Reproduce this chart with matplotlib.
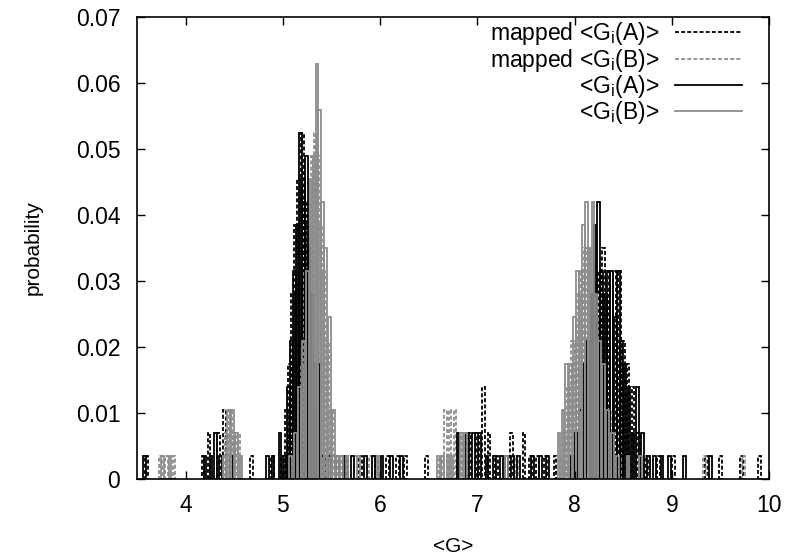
import matplotlib
matplotlib.use("Agg")
import matplotlib.pyplot as plt
from matplotlib.lines import Line2D

# probability unit: one sample out of 286
unit = 1.0 / 286

# <Gi(A)>  (solid black)
a_x = [3.58, 4.20, 4.26, 4.31, 4.36, 4.47,
       4.84, 4.90, 4.97, 5.02, 5.06, 5.09, 5.12, 5.15, 5.18, 5.21, 5.24, 5.27,
       5.30, 5.33, 5.36, 5.41, 5.48, 5.56, 5.63, 5.72,
       5.85, 5.93, 6.02, 6.12, 6.22, 6.80, 6.90, 6.96, 7.02, 7.10, 7.18, 7.25,
       7.30, 7.36, 7.42, 7.57, 7.65, 7.72,
       7.98, 8.02, 8.06, 8.10, 8.14, 8.18, 8.21, 8.25, 8.28, 8.32, 8.35, 8.38,
       8.42, 8.45, 8.48, 8.52, 8.56, 8.60, 8.65, 8.70, 8.76, 8.82, 8.90, 8.98,
       9.13, 9.40]
a_n = [1, 1, 1, 2, 1, 1,
       1, 1, 2, 1, 4, 6, 9, 11, 15, 13, 14, 10,
       8, 5, 5, 1, 1, 1, 1, 1,
       1, 1, 1, 1, 1, 2, 2, 2, 2, 1, 1, 1,
       1, 1, 1, 1, 1, 1,
       1, 2, 3, 5, 6, 8, 11, 12, 9, 8, 9, 9,
       7, 9, 6, 5, 4, 2, 4, 2, 1, 1, 1, 1,
       1, 1]

# <Gi(B)>  (solid grey)
b_x = [3.76, 3.84, 4.40, 4.44, 4.48, 4.52, 4.57,
       5.08, 5.13, 5.17, 5.21, 5.25, 5.29, 5.32, 5.35, 5.38, 5.41, 5.44, 5.48,
       5.52, 5.56, 5.60, 5.66, 5.78, 5.98,
       6.60, 6.64, 6.70, 6.74, 6.84, 6.88, 7.30,
       7.84, 7.88, 7.92, 7.96, 8.00, 8.03, 8.06, 8.09, 8.12, 8.15, 8.19, 8.22,
       8.26, 8.30, 8.34, 8.39, 8.44, 8.55, 8.68]
b_n = [1, 1, 1, 3, 3, 2, 1,
       1, 2, 4, 6, 9, 13, 14, 18, 16, 12, 10, 7,
       3, 1, 1, 1, 1, 1,
       1, 1, 1, 1, 2, 2, 1,
       2, 3, 5, 5, 7, 9, 9, 11, 12, 10, 12, 8,
       6, 5, 3, 2, 1, 1, 1]

# mapped <Gi(A)>  (dashed black)
ma_x = [3.60, 4.18, 4.24, 4.34, 4.40, 4.68, 4.89,
        5.00, 5.04, 5.07, 5.10, 5.13, 5.16, 5.20, 5.23, 5.26, 5.29, 5.32,
        5.36, 5.40, 5.45, 5.52, 5.66, 5.80, 5.96, 6.08, 6.18, 6.26, 6.48,
        6.92, 7.00, 7.06, 7.12, 7.20, 7.35, 7.48, 7.55, 7.62, 7.70, 7.80,
        8.02, 8.06, 8.10, 8.14, 8.18, 8.22, 8.26, 8.30, 8.34, 8.38, 8.41,
        8.46, 8.50, 8.55, 8.60, 8.66, 8.74, 8.86, 9.02, 9.36, 9.50, 9.72, 9.90]
ma_n = [1, 1, 2, 2, 3, 1, 1,
        1, 3, 5, 8, 11, 13, 15, 12, 11, 7, 5,
        3, 1, 1, 1, 1, 1, 1, 1, 1, 1, 1,
        2, 2, 4, 2, 1, 2, 2, 1, 1, 1, 1,
        1, 2, 3, 4, 6, 8, 9, 10, 9, 8, 9,
        9, 6, 5, 4, 2, 1, 1, 1, 1, 1, 1, 1]

# mapped <Gi(B)>  (dashed grey)
mb_x = [3.74, 3.80, 3.88, 4.42, 4.46, 4.50, 4.55,
        5.12, 5.16, 5.20, 5.23, 5.27, 5.30, 5.33, 5.36, 5.39, 5.42, 5.46,
        5.50, 5.55, 5.62, 5.75, 5.90,
        6.62, 6.67, 6.72, 6.77, 6.82, 6.86, 7.40,
        7.86, 7.90, 7.94, 7.98, 8.02, 8.05, 8.08, 8.11, 8.16, 8.20, 8.24,
        8.28, 8.32, 8.37, 8.42, 8.50, 8.62, 9.34, 9.74]
mb_n = [1, 1, 1, 2, 3, 2, 2,
        1, 3, 5, 9, 11, 14, 15, 14, 11, 9, 6,
        3, 1, 1, 1, 1,
        1, 3, 3, 3, 2, 2, 1,
        1, 2, 4, 6, 6, 8, 9, 10, 10, 8, 7,
        6, 4, 3, 2, 1, 1, 1, 1]

labels = [r"mapped <G$_\mathrm{i}$(A)>", r"mapped <G$_\mathrm{i}$(B)>",
          r"<G$_\mathrm{i}$(A)>", r"<G$_\mathrm{i}$(B)>"]
xticks = [4, 5, 6, 7, 8, 9, 10]
yticks = [0, 0.01, 0.02, 0.03, 0.04, 0.05, 0.06, 0.07]

plt.rcParams["font.family"] = ["Liberation Sans", "DejaVu Sans"]
plt.rcParams["mathtext.fontset"] = "custom"
plt.rcParams["mathtext.rm"] = "Liberation Sans"
plt.rcParams["mathtext.it"] = "Liberation Sans:italic"

fig = plt.figure(figsize=(7.93, 5.59), dpi=100)
ax = fig.add_axes([137 / 793, 1 - 479 / 559, (769 - 137) / 793, (479 - 17) / 559])

w = 0.028
lw = 1.3
grey = "#8c8c8c"
dash = (0, (2.2, 1.2))
fs = 16.5

series = [(ma_x, ma_n, "black", dash), (mb_x, mb_n, grey, dash),
          (a_x, a_n, "black", "-"), (b_x, b_n, grey, "-")]
handles = []
for (xs, ns, col, ls), lab in zip(series, labels):
    ax.bar(xs, [n * unit for n in ns], width=w, fill=False, edgecolor=col,
           linestyle=ls, linewidth=lw)
    handles.append(Line2D([], [], color=col, linestyle=ls, linewidth=lw, label=lab))

ax.set_xlim(3.5, 10)
ax.set_ylim(0, 0.07)
ax.set_xticks(xticks)
ax.set_xticklabels([str(t) for t in xticks])
ax.set_yticks(yticks)
ax.set_yticklabels(["0"] + ["%.2f" % t for t in yticks[1:]])
ax.tick_params(axis="x", direction="in", length=6, width=1, top=True,
               labelsize=fs, pad=11)
ax.tick_params(axis="y", direction="in", length=6, width=1, right=True,
               labelsize=fs, pad=12)
for s in ax.spines.values():
    s.set_linewidth(1.2)

ax.set_xlabel("<G>", fontsize=15, labelpad=14)
ax.set_ylabel("probability", fontsize=15, labelpad=24)

ax.legend(handles=handles, loc="upper right", frameon=False, markerfirst=False,
          fontsize=fs, handlelength=2.9, handletextpad=0.7,
          labelspacing=-0.03, borderaxespad=0.1, borderpad=0.05,
          bbox_to_anchor=(1 - 24 / 632, 1.0))

fig.savefig("out.png", dpi=100)
